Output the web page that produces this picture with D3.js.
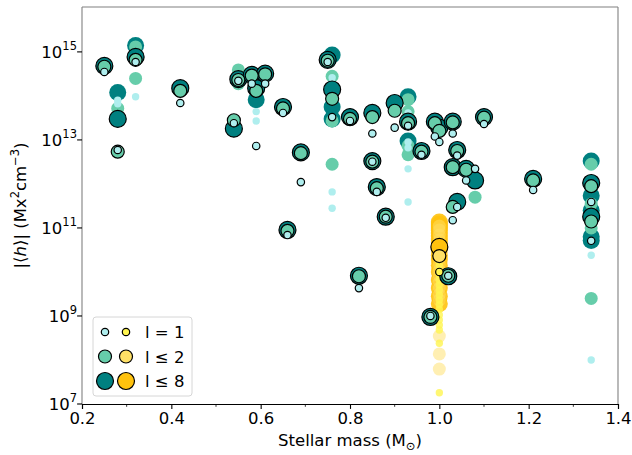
<!DOCTYPE html>
<html>
<head>
<meta charset="utf-8">
<script src="https://cdn.jsdelivr.net/npm/d3@7"></script>
<style>
  body { margin: 0; background: #fff; }
  text { font-family: "DejaVu Sans", sans-serif; }
</style>
</head>
<body>
<div id="chart"></div>
<script>
// each row: [stellar mass, |<h>|, edged (1) or not (0)]
const starsL8 = [
  [0.25, 4.8e14, 1], [0.28, 1.2e14, 0], [0.28, 3.0e13, 1], [0.32, 1.4e15, 0], [0.32, 7.7e14, 1],
  [0.42, 1.5e14, 1], [0.54, 1.8e13, 1], [0.55, 2.4e14, 1], [0.58, 3.0e14, 1], [0.59, 1.5e14, 1],
  [0.59, 8.2e13, 0], [0.61, 3.2e14, 1], [0.65, 5.6e13, 1], [0.66, 9.0e10, 1], [0.69, 5.2e12, 1],
  [0.75, 6.6e14, 1], [0.76, 8.5e14, 0], [0.76, 1.4e14, 1], [0.76, 5.6e13, 0], [0.76, 3.0e13, 0],
  [0.80, 3.3e13, 1], [0.82, 8.2e9, 1], [0.85, 4.1e13, 1], [0.85, 3.3e12, 1], [0.86, 8.5e11, 1],
  [0.88, 1.8e11, 1], [0.90, 6.9e13, 1], [0.93, 9.6e13, 0], [0.93, 2.6e13, 1], [0.93, 9.5e12, 0],
  [0.96, 5.6e12, 1], [0.98, 9.5e8, 1], [0.99, 2.6e13, 1], [1.00, 1.9e13, 1], [1.02, 8.0e9, 1],
  [1.03, 2.6e13, 1], [1.03, 2.4e12, 1], [1.04, 5.9e12, 1], [1.04, 3.9e11, 1], [1.06, 2.2e12, 1],
  [1.08, 1.2e12, 1], [1.10, 3.3e13, 1], [1.21, 1.3e12, 1], [1.34, 3.3e12, 0], [1.34, 1.05e12, 1],
  [1.34, 5.4e11, 0], [1.34, 2.5e11, 0], [1.34, 1.8e11, 1], [1.34, 6.3e10, 0], [1.34, 5.2e10, 0]
];
const starsL2 = [
  [0.25, 4.6e14, 1], [0.28, 5.2e13, 0], [0.28, 5.4e12, 1], [0.32, 1.3e15, 0], [0.32, 6.6e14, 1],
  [0.32, 2.5e14, 0], [0.42, 1.3e14, 1], [0.54, 2.8e13, 1], [0.55, 3.9e14, 0], [0.55, 2.8e14, 0],
  [0.55, 1.9e14, 0], [0.55, 2.3e14, 1], [0.58, 2.9e14, 1], [0.59, 1.3e14, 1], [0.61, 3.1e14, 1],
  [0.65, 5.2e13, 1], [0.66, 8.6e10, 1], [0.69, 5.0e12, 1], [0.75, 6.3e14, 1], [0.76, 2.8e14, 0],
  [0.76, 8.6e13, 1], [0.76, 2.7e13, 0], [0.76, 2.8e12, 0], [0.80, 3.0e13, 1], [0.82, 8.0e9, 1],
  [0.85, 3.3e13, 1], [0.85, 3.2e12, 1], [0.86, 8.0e11, 1], [0.88, 1.8e11, 1], [0.90, 4.6e13, 1],
  [0.93, 8.2e13, 0], [0.93, 4.4e13, 0], [0.93, 2.4e13, 1], [0.93, 7.3e12, 0], [0.93, 4.6e12, 0],
  [0.96, 5.4e12, 1], [0.98, 9.5e8, 1], [0.99, 2.4e13, 1], [1.00, 1.6e13, 1], [1.02, 8.2e9, 1],
  [1.03, 2.5e13, 1], [1.03, 2.4e12, 1], [1.03, 3.0e11, 1], [1.04, 5.6e12, 1], [1.06, 2.1e12, 1],
  [1.08, 5.0e11, 0], [1.10, 3.2e13, 1], [1.21, 1.2e12, 1], [1.34, 2.8e12, 0], [1.34, 8.9e11, 1],
  [1.34, 3.5e11, 0], [1.34, 1.4e11, 1], [1.34, 1.0e11, 0], [1.34, 2.5e9, 0]
];
const starsL1 = [
  [0.25, 3.5e14, 1], [0.28, 8.0e13, 0], [0.28, 6.6e13, 0], [0.28, 5.9e12, 1], [0.32, 5.9e14, 1],
  [0.32, 9.6e13, 0], [0.42, 6.9e13, 1], [0.54, 2.4e13, 1], [0.55, 2.2e14, 1], [0.58, 1.9e14, 1],
  [0.59, 4.4e13, 0], [0.59, 2.7e13, 0], [0.59, 7.3e12, 1], [0.61, 1.9e14, 1], [0.65, 4.1e13, 1],
  [0.66, 6.9e10, 1], [0.69, 1.1e12, 1], [0.75, 5.9e14, 1], [0.76, 2.6e14, 0], [0.76, 3.3e13, 1],
  [0.76, 6.6e11, 0], [0.76, 2.8e11, 0], [0.80, 2.7e13, 1], [0.82, 4.3e9, 1], [0.85, 1.4e13, 1],
  [0.85, 3.2e12, 1], [0.86, 6.6e11, 1], [0.88, 1.7e11, 1], [0.90, 1.9e13, 1], [0.93, 4.1e13, 0],
  [0.93, 2.1e13, 1], [0.93, 9.0e12, 0], [0.93, 6.6e12, 0], [0.93, 2.2e12, 0], [0.93, 3.9e11, 0],
  [0.96, 4.6e12, 1], [0.98, 1.0e9, 1], [0.99, 1.2e13, 1], [1.00, 9.0e12, 1], [1.02, 8.2e9, 1],
  [1.03, 1.4e13, 1], [1.03, 1.5e11, 1], [1.04, 4.4e12, 1], [1.04, 3.0e11, 1], [1.06, 1.2e12, 1],
  [1.08, 2.2e12, 1], [1.10, 2.3e13, 1], [1.21, 7.3e11, 1], [1.34, 3.9e11, 1], [1.34, 5.1e10, 1],
  [1.34, 2.4e10, 0], [1.34, 1.0e8, 0]
];

// the Sun (all at 1.0 solar mass)
const sunL8 = [1.37e11, 1.23e11, 1.11e11, 1.0e11, 9.0e10, 7.7e10, 6.6e10, 5.6e10, 4.8e10, 3.9e10,
  3.2e10, 2.4e10, 1.9e10, 1.4e10, 1.0e10, 6.6e9, 4.3e9, 2.8e9, 1.9e9];
const sunL2 = [1.1e11, 9.0e10, 6.9e10, 5.4e10, 3.9e10, 2.8e10, 2.1e10, 1.5e10, 1.1e10, 8.2e9,
  5.9e9, 4.3e9, 3.1e9, 2.3e9, 3.5e8, 1.37e8, 6.2e7];
const sunL1 = [3.2e10, 2.4e10, 1.9e10, 1.45e10, 1.1e10, 8.6e9, 6.6e9, 5.1e9, 3.9e9, 3.0e9, 2.3e9,
  1.8e9, 1.4e9, 1.05e9, 8.1e8, 6.2e8, 4.8e8, 2.4e8, 1.8e7];
const sunEdged = [[8, 3.7e10], [2, 2.3e10], [1, 1.0e10]];

const xTicks = [0.2, 0.4, 0.6, 0.8, 1.0, 1.2, 1.4];
const xMinor = [0.3, 0.5, 0.7, 0.9, 1.1, 1.3];
const yTicks = [7, 9, 11, 13, 15];
const legendLabels = ["l = 1", "l \u2264 2", "l \u2264 8"];

const starColor = {1: "#afeeee", 2: "#66cdaa", 8: "#008080"};
const sunColor = {1: "#fff550", 2: "#ffe066", 8: "#ffc20e"};
const sunAlpha = {1: 0.8, 2: 0.5, 8: 0.9};
const radius = {1: 3.7, 2: 6.5, 8: 8.5};

const W = 632, H = 455;
const margin = {left: 82, right: 14, top: 7, bottom: 51};

const svg = d3.select("#chart").append("svg")
  .attr("width", W).attr("height", H);

const x = d3.scaleLinear().domain([0.2, 1.4]).range([margin.left, W - margin.right]);
const y = d3.scaleLog().domain([1e7, Math.pow(10, 16.02)]).range([H - margin.bottom, margin.top]);

// collect points in drawing order
const marks = [];
sunL8.forEach(v => marks.push({m: 1.0, h: v, l: 8, e: 0, sun: true}));
sunL2.forEach(v => marks.push({m: 1.0, h: v, l: 2, e: 0, sun: true}));
sunL1.forEach(v => marks.push({m: 1.0, h: v, l: 1, e: 0, sun: true}));
[[starsL8, 8], [starsL2, 2], [starsL1, 1]].forEach(([arr, l]) => {
  arr.filter(d => !d[2]).forEach(d => marks.push({m: d[0], h: d[1], l: l, e: 0}));
});
[[starsL8, 8], [starsL2, 2], [starsL1, 1]].forEach(([arr, l]) => {
  arr.filter(d => d[2]).forEach(d => marks.push({m: d[0], h: d[1], l: l, e: 1}));
});
sunEdged.forEach(d => marks.push({m: 1.0, h: d[1], l: d[0], e: 1, sun: true}));

svg.append("g").selectAll("circle")
  .data(marks)
  .enter().append("circle")
    .attr("cx", d => x(d.m))
    .attr("cy", d => y(d.h))
    .attr("r", d => radius[d.l])
    .attr("fill", d => d.sun ? sunColor[d.l] : starColor[d.l])
    .attr("fill-opacity", d => (d.sun && !d.e) ? sunAlpha[d.l] : 1)
    .attr("stroke", d => d.e ? "#000" : "none")
    .attr("stroke-width", 1.2);

// frame
const x0 = margin.left, x1 = W - margin.right, y0 = margin.top, y1 = H - margin.bottom;
svg.append("line").attr("x1", x0).attr("x2", x1).attr("y1", y0).attr("y2", y0).attr("stroke", "#808080").attr("stroke-width", 1.1);
svg.append("line").attr("x1", x0).attr("x2", x0).attr("y1", y0).attr("y2", y1).attr("stroke", "#808080").attr("stroke-width", 1.1);
svg.append("line").attr("x1", x1).attr("x2", x1).attr("y1", y0).attr("y2", y1).attr("stroke", "#808080").attr("stroke-width", 1.1);

// x axis
const xAxis = svg.append("g").attr("transform", `translate(0,${y1})`)
  .call(d3.axisBottom(x).tickValues(xTicks).tickFormat(d3.format(".1f")).tickSizeOuter(0).tickSize(4.9).tickPadding(3.5));
xAxis.selectAll("text").attr("font-size", "16.5px").attr("fill", "#000").attr("font-family", "DejaVu Sans");
xAxis.select(".domain").attr("stroke", "#000").attr("stroke-width", 1.1);
xAxis.selectAll(".tick line").attr("stroke-width", 1.1);
svg.append("g").attr("transform", `translate(0,${y1})`)
  .selectAll("line").data(xMinor).enter().append("line")
    .attr("x1", d => x(d)).attr("x2", d => x(d)).attr("y1", 0).attr("y2", 2.8)
    .attr("stroke", "#000").attr("stroke-width", 0.8);

// y axis ticks with power-of-ten labels
const yg = svg.append("g");
yTicks.forEach(p => {
  const yy = y(Math.pow(10, p));
  yg.append("line").attr("x1", x0 - 4.9).attr("x2", x0).attr("y1", yy).attr("y2", yy)
    .attr("stroke", "#000").attr("stroke-width", 1.1);
  const t = yg.append("text").attr("x", x0 - 5).attr("y", yy + 6).attr("text-anchor", "end")
    .attr("font-size", "16.5px");
  t.append("tspan").text("10");
  t.append("tspan").attr("dy", -8).attr("font-size", "11.5px").text(p);
});

// axis titles
const xl = svg.append("text").attr("x", (x0 + x1) / 2).attr("y", 446)
  .attr("text-anchor", "middle").attr("font-size", "16.5px");
xl.append("tspan").text("Stellar mass (M");
xl.append("tspan").attr("dy", 4).attr("font-size", "11.5px").text("\u2299");
xl.append("tspan").attr("dy", -4).text(")");

const yl = svg.append("text").attr("transform", "translate(26," + ((y0 + y1) / 2) + ") rotate(-90)")
  .attr("text-anchor", "middle").attr("font-size", "16.5px");
yl.append("tspan").text("|\u27e8");
yl.append("tspan").attr("font-style", "italic").text("h");
yl.append("tspan").text("\u27e9| (Mx");
yl.append("tspan").attr("dy", -7).attr("font-size", "11.5px").text("2");
yl.append("tspan").attr("dy", 7).text("cm");
yl.append("tspan").attr("dy", -7).attr("font-size", "11.5px").text("\u22123");
yl.append("tspan").attr("dy", 7).text(")");

// legend
const lg = svg.append("g").attr("transform", "translate(93,317)");
lg.append("rect").attr("width", 99).attr("height", 79).attr("rx", 3)
  .attr("fill", "#fff").attr("fill-opacity", 0.8).attr("stroke", "#d6d6d6").attr("stroke-width", 1);
[1, 2, 8].forEach((l, i) => {
  const ry = 15 + i * 24.5;
  lg.append("circle").attr("cx", 12).attr("cy", ry).attr("r", radius[l])
    .attr("fill", starColor[l]).attr("stroke", "#000").attr("stroke-width", 1.2);
  lg.append("circle").attr("cx", 33).attr("cy", ry).attr("r", radius[l])
    .attr("fill", sunColor[l]).attr("stroke", "#000").attr("stroke-width", 1.2);
  lg.append("text").attr("x", 52).attr("y", ry + 6).attr("font-size", "16.5px").text(legendLabels[i]);
});
</script>
</body>
</html>
